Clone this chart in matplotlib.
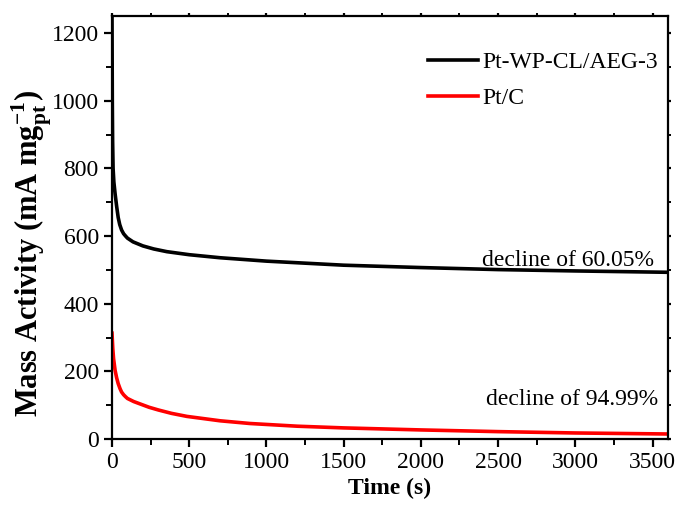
import matplotlib.pyplot as plt
from matplotlib.ticker import MultipleLocator

plt.rcParams['font.family'] = ['Liberation Serif', 'DejaVu Serif']
plt.rcParams['mathtext.fontset'] = 'custom'
plt.rcParams['mathtext.rm'] = 'Liberation Serif'
plt.rcParams['mathtext.bf'] = 'Liberation Serif:bold'

# time points (s) and mass activity (mA mg_pt^-1)
time_s = [0, 2, 4, 7, 12, 20, 30, 40, 50, 62, 75, 88, 100, 136, 200, 270,
          355, 500, 700, 1000, 1500, 2000, 2500, 3000, 3600]
pt_wp = [1245, 1000, 880, 800, 760, 725, 688, 655, 634, 618, 607, 600, 594,
         583, 571, 562, 554, 545, 536, 526, 514, 507, 501, 497, 493]
time_c = [0, 5, 10, 20, 30, 40, 52, 62, 75, 88, 100, 140, 181, 240, 300,
          385, 485, 700, 893, 1200, 1500, 2000, 2500, 3000, 3600]
pt_c = [313, 268, 238, 203, 181, 164, 149, 139, 131, 125, 120, 111, 104, 94,
        86, 76, 67, 54, 46, 38, 33, 27, 22, 18, 15]

labels = ['Pt-WP-CL/AEG-3', 'Pt/C']
notes = ['decline of 60.05%', 'decline of 94.99%']

fig = plt.figure(figsize=(6.83, 5.07), dpi=100)
ax = fig.add_axes([0.164, 0.134, 0.814, 0.834])

ax.plot(time_s, pt_wp, color='black', lw=2.6, label=labels[0])
ax.plot(time_c, pt_c, color='red', lw=2.6, label=labels[1])

ax.set_xlim(0, 3600)
ax.set_ylim(0, 1250)
ax.xaxis.set_major_locator(MultipleLocator(500))
ax.xaxis.set_minor_locator(MultipleLocator(250))
ax.yaxis.set_major_locator(MultipleLocator(200))
ax.yaxis.set_minor_locator(MultipleLocator(100))

for s in ax.spines.values():
    s.set_linewidth(1.6)
ax.tick_params(which='major', direction='out', length=6, width=1.6, labelsize=17)
ax.tick_params(which='minor', direction='out', length=4, width=1.4)
ax.tick_params(which='both', top=True, right=True)
for t in ax.xaxis.get_ticklines(minor=True)[1::2] + ax.xaxis.get_ticklines()[1::2]:
    t.set_markersize(2)
for t in ax.yaxis.get_ticklines(minor=True)[1::2] + ax.yaxis.get_ticklines()[1::2]:
    t.set_markersize(2)

ax.set_xlabel('Time (s)', fontsize=17, fontweight='bold', labelpad=3)
ax.set_ylabel(r'Mass Activity (mA mg$_{\mathbf{pt}}^{\mathbf{-1}}$)', fontsize=22,
              fontweight='bold')
ax.yaxis.set_label_coords(-0.104, 0.44)

ax.legend(loc='upper right', bbox_to_anchor=(0.982, 0.917), frameon=False,
          fontsize=17, handlelength=2.1, handletextpad=0.2, labelspacing=0.62,
          borderpad=0, borderaxespad=0)

ax.text(3510, 512, notes[0], fontsize=17, ha='right', va='baseline')
ax.text(3535, 100, notes[1], fontsize=17, ha='right', va='baseline')

fig.savefig('out.png', dpi=100)
